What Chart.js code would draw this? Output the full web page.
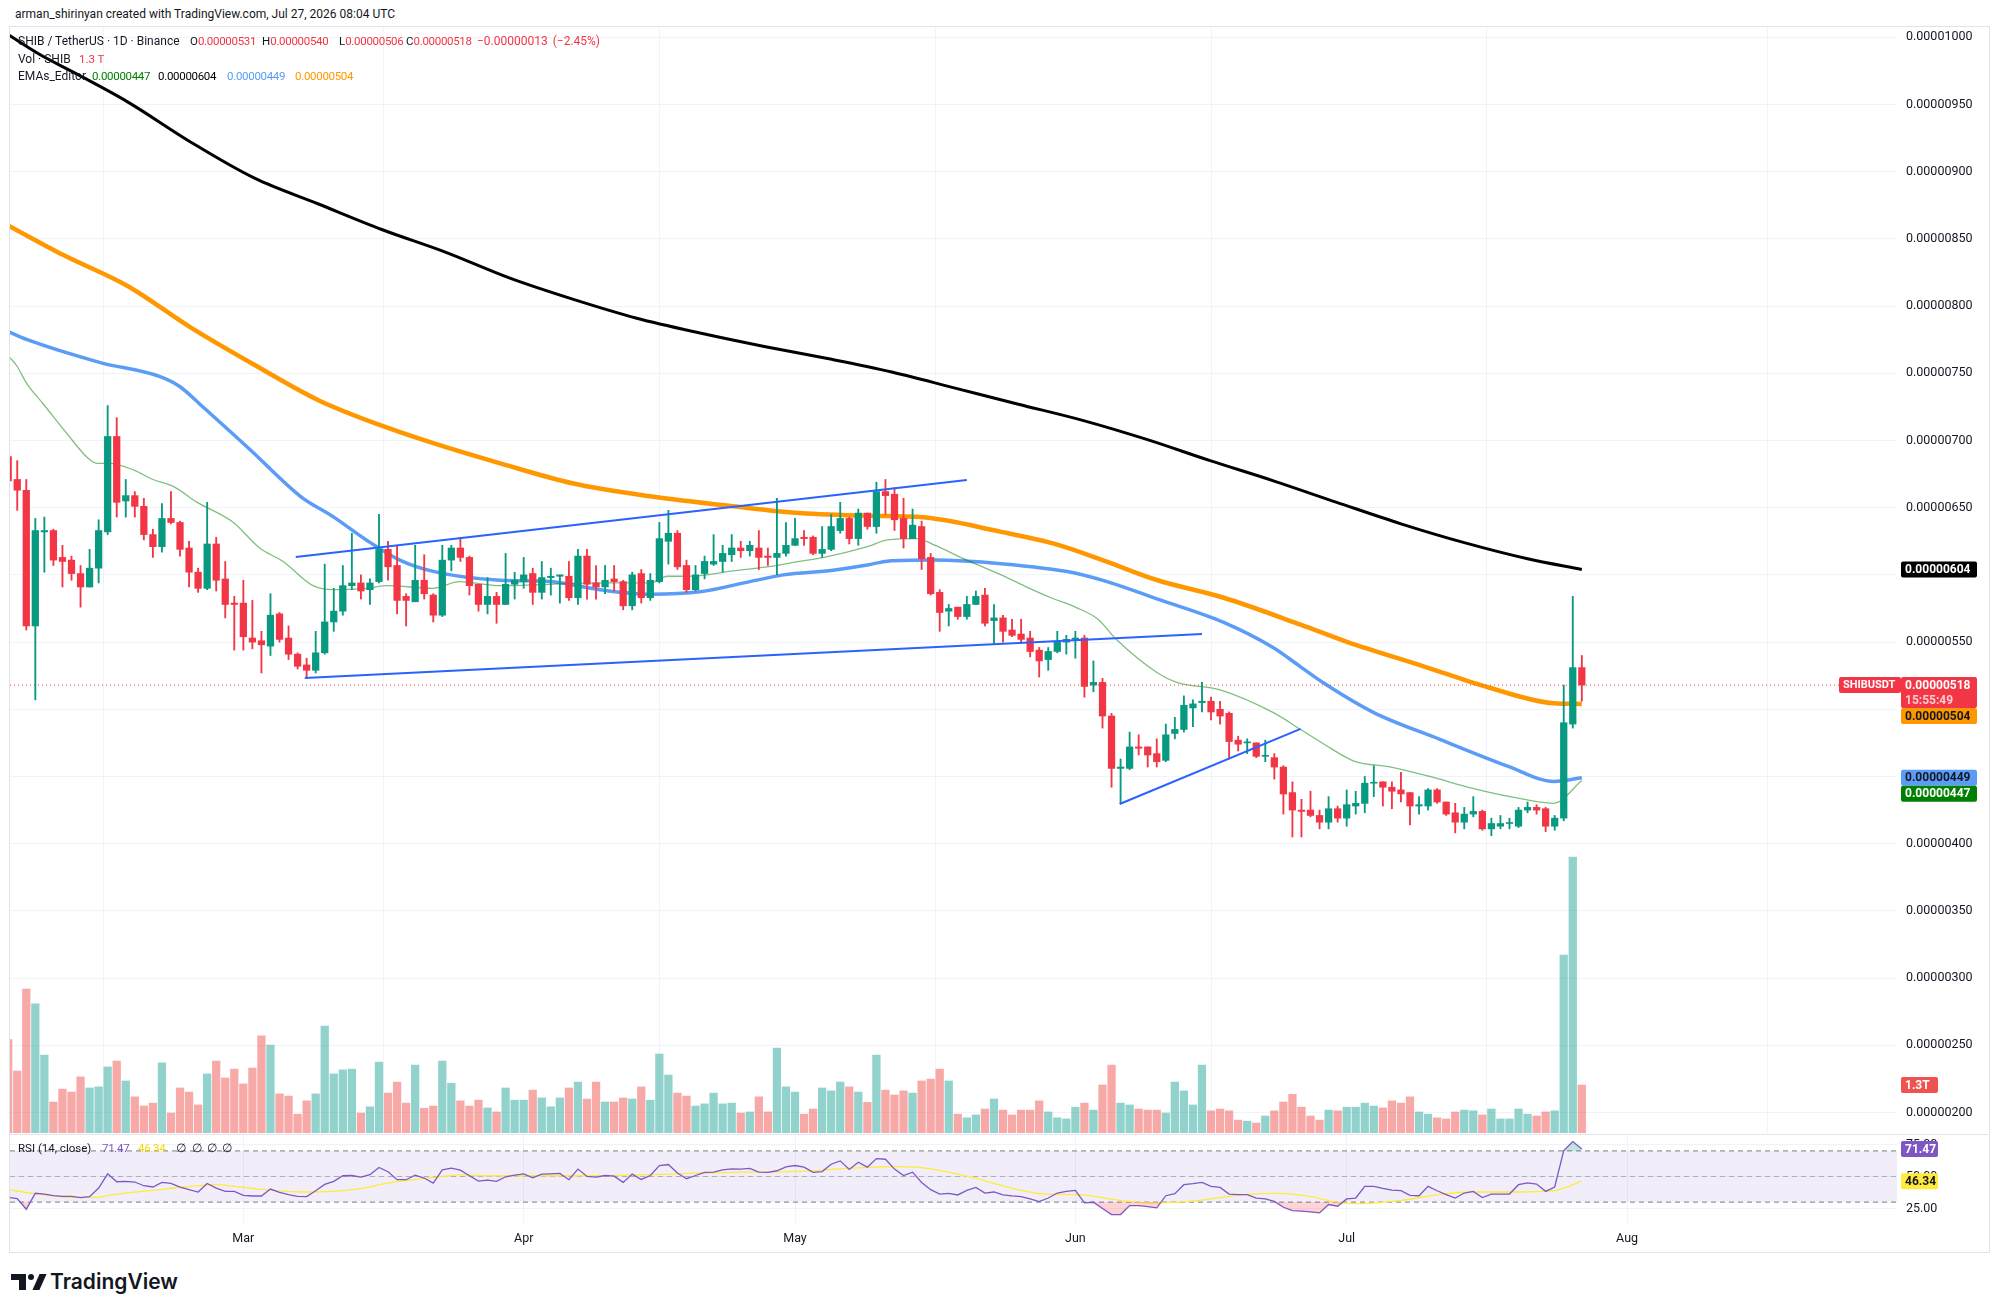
<!DOCTYPE html>
<html>
<head>
<meta charset="utf-8">
<script src="https://cdn.jsdelivr.net/npm/chart.js@4.4.1/dist/chart.umd.min.js"></script>
<style>
  html, body { margin: 0; padding: 0; background: #fff; }
  body { width: 1996px; height: 1312px; position: relative; overflow: hidden; font-family: Roboto, "Noto Sans", sans-serif; color: #131722; }
  .t { position: absolute; white-space: nowrap; font-size: 11.5px; line-height: 12px; }
  .v { letter-spacing: -0.3px; }
  .red { color: #f23645; }
  #frame { position: absolute; left: 9px; top: 26px; width: 1981px; height: 1227px; border: 1px solid #e0e3eb; box-sizing: border-box; }
  #mainChart { position: absolute; left: 10px; top: 27px; }
  #rsiChart { position: absolute; left: 10px; top: 1134px; }
  .lg { position: absolute; background: #131722; }
</style>
</head>
<body>
<div class="t" style="left:15px; top:8px; font-size:12px;">arman_shirinyan created with TradingView.com, Jul 27, 2026 08:04 UTC</div>
<div id="frame"></div>
<canvas id="mainChart" width="1978" height="1106"></canvas>
<canvas id="rsiChart" width="1978" height="118"></canvas>

<div class="t" style="left:18px; top:35px; font-size:12px;">SHIB / TetherUS · 1D · Binance</div>
<div class="t" style="left:190px; top:35px;">O<span class="red v">0.00000531</span></div>
<div class="t" style="left:262px; top:35px;">H<span class="red v">0.00000540</span></div>
<div class="t" style="left:339px; top:35px;">L<span class="red v">0.00000506</span></div>
<div class="t" style="left:406px; top:35px;">C<span class="red v">0.00000518</span></div>
<div class="t red" style="left:477px; top:35px; font-size:12px; word-spacing:2px;">−0.00000013 (−2.45%)</div>
<div class="t" style="left:18px; top:53px; font-size:12px;">Vol · SHIB</div>
<div class="t red" style="left:79px; top:53px;">1.3 T</div>
<div class="t" style="left:18px; top:70px; font-size:12px;">EMAs_Editor</div>
<div class="t v" style="left:92px; top:70px; color:#008000;">0.00000447</div>
<div class="t v" style="left:158px; top:70px; color:#000;">0.00000604</div>
<div class="t v" style="left:227px; top:70px; color:#5b9cf6;">0.00000449</div>
<div class="t v" style="left:295px; top:70px; color:#ff9800;">0.00000504</div>

<div class="t" style="left:18px; top:1142px;">RSI (14, close)</div>
<div class="t v" style="left:102px; top:1142px; color:#7e57c2;">71.47</div>
<div class="t v" style="left:138px; top:1142px; color:#f5d90a;">46.34</div>
<div class="t" style="left:176px; top:1142px;">∅</div>
<div class="t" style="left:192px; top:1142px;">∅</div>
<div class="t" style="left:207px; top:1142px;">∅</div>
<div class="t" style="left:222px; top:1142px;">∅</div>

<div style="position:absolute; left:11px; top:1274px; width:34px; height:16px;">
  <div class="lg" style="left:0; top:0; width:15px; height:6px;"></div>
  <div class="lg" style="left:8px; top:0; width:7px; height:16px;"></div>
  <div class="lg" style="left:17px; top:0; width:6px; height:6px; border-radius:50%;"></div>
  <div class="lg" style="left:25px; top:0; width:7px; height:16px; transform:skewX(-24deg);"></div>
</div>
<div class="t" style="left:50px; top:1270px; font:600 21px Inter, Roboto, sans-serif; line-height:24px;">TradingView</div>

<script>
// day index: 0 = Mar 1, 2026; first candle = Feb 3
const firstDay = -26;
const monthStarts = [0, 31, 61, 92, 122, 153];
const monthNames = ['Mar', 'Apr', 'May', 'Jun', 'Jul', 'Aug'];
const priceTicks = [200, 250, 300, 350, 400, 450, 500, 550, 600, 650, 700, 750, 800, 850, 900, 950, 1000];
const hiddenPriceLabels = [450, 500, 600];
const rsiTicks = [25, 50, 75];

// prices in units of 0.00000001 USDT
const open = [
  688,671,663,562,632,633,613,611,601,591,605,632,703,655,659,651,630,621,642,639,620,602,590,623,597,579,
  579,553,551,547,571,553,541,533,529,542,565,573,592,594,589,595,619,607,584,580,596,585,570,611,620,613,593,578,584,578,593,
  595,601,587,598,599,599,583,614,594,591,597,595,577,601,583,595,625,631,607,589,601,608,610,615,620,618,620,614,613,616,
  622,628,628,616,619,633,642,627,646,636,662,660,642,627,636,613,587,573,576,569,578,585,566,568,559,556,553,544,537,543,550,
  552,553,518,520,495,456,456,472,472,467,462,482,485,501,505,506,500,497,477,475,475,465,464,457,438,425,425,421,416,426,
  419,428,430,445,446,442,440,438,428,428,440,431,423,416,422,424,411,413,415,413,425,427,426,413,419,489,531
];
const high = [
  690,685,671,642,643,634,622,614,607,619,641,726,717,671,662,657,634,653,662,640,625,605,654,628,610,584,
  596,581,558,586,572,562,542,538,558,608,590,607,631,600,597,645,625,622,586,622,615,586,622,622,628,614,593,598,587,616,602,
  613,605,610,605,600,610,619,619,607,607,607,596,602,604,601,639,648,633,611,607,614,630,622,630,625,625,633,620,657,639,
  642,633,629,636,645,654,643,649,646,669,671,665,657,649,640,616,589,578,576,584,588,590,578,570,567,567,558,546,546,558,555,
  558,555,536,523,497,463,483,481,472,478,489,494,510,507,520,509,506,498,480,478,475,477,467,458,446,433,439,425,435,428,
  440,439,450,458,446,446,453,438,435,441,441,431,430,427,435,425,419,421,419,427,431,429,427,421,518,584,540
];
const low = [
  668,648,559,507,602,607,591,596,576,591,594,630,643,643,643,626,613,617,638,614,591,587,589,588,568,544,
  544,545,527,540,550,537,530,524,527,541,558,570,589,582,578,594,596,571,562,580,582,565,569,603,610,585,573,571,564,578,582,
  590,578,582,585,579,581,578,582,582,586,588,574,574,579,581,594,608,604,587,588,597,607,602,610,613,614,604,607,600,614,
  622,622,615,613,618,631,623,622,634,631,645,633,620,627,604,585,558,562,567,567,578,562,549,550,554,549,539,524,529,542,541,
  538,509,513,486,442,430,455,466,457,457,461,478,483,487,498,492,489,463,469,467,464,461,448,422,405,405,420,411,411,416,
  413,422,423,435,428,426,431,414,422,425,430,421,408,411,420,410,406,411,411,412,423,422,409,410,417,486,506
];
const close = [
  670,663,562,633,633,611,610,601,591,605,633,703,654,659,651,630,621,642,639,619,602,590,623,596,578,578,
  554,550,548,570,552,541,532,529,542,565,573,592,594,588,594,619,606,581,581,596,586,570,611,620,613,592,578,584,578,593,596,
  600,587,598,599,600,583,614,593,591,596,595,577,600,583,596,627,631,606,589,600,610,610,616,620,618,622,613,613,616,622,
  627,627,616,619,636,642,627,646,636,662,659,641,627,637,612,586,572,575,569,578,584,564,568,558,555,552,543,536,543,550,552,
  553,517,520,495,456,457,472,471,466,461,481,485,503,504,506,498,495,476,474,475,465,465,457,437,425,424,421,416,426,419,
  429,430,445,445.5,442,439,437,428,429,440,431,422,416,422,424,411,415,415,415.5,425,427,425,413,419,490,531,518
];
// volume in trillions SHIB
const volume = [
  2.53,1.68,3.90,3.50,2.11,0.84,1.19,1.11,1.52,1.22,1.25,1.79,1.95,1.41,0.98,0.73,0.81,1.90,0.54,1.22,1.11,0.76,1.60,1.95,1.49,1.73,
  1.33,1.76,2.63,2.38,1.06,1.00,0.51,0.87,1.06,2.90,1.60,1.71,1.73,0.54,0.71,1.92,1.08,1.38,0.81,1.84,0.67,0.73,1.95,1.35,0.87,0.73,0.89,0.68,0.57,1.22,0.89,
  0.89,1.16,0.95,0.71,0.95,1.22,1.38,0.92,1.38,0.84,0.84,0.95,0.92,1.25,0.89,2.14,1.57,1.08,1.00,0.73,0.79,1.08,0.79,0.81,0.54,0.57,0.98,0.57,2.30,1.25,
  1.11,0.51,0.65,1.22,1.14,1.38,1.25,1.11,0.83,2.11,1.16,1.03,1.14,1.08,1.41,1.46,1.73,1.41,0.51,0.41,0.49,0.65,0.92,0.62,0.49,0.62,0.62,0.87,0.57,0.41,0.38,
  0.70,0.81,0.62,1.30,1.84,0.81,0.76,0.65,0.62,0.62,0.54,1.38,1.14,0.76,1.84,0.60,0.65,0.60,0.35,0.32,0.27,0.46,0.60,0.84,1.05,0.70,0.46,0.35,0.62,0.60,
  0.70,0.70,0.81,0.73,0.68,0.87,0.81,0.98,0.57,0.51,0.41,0.38,0.57,0.62,0.60,0.49,0.65,0.38,0.38,0.65,0.51,0.46,0.57,0.60,4.82,7.48,1.30
];
const rsi = [
  33.8,32.7,24.4,36.9,36.3,35.0,34.5,34.5,33.5,34.3,41.0,52.1,45.9,46.2,45.7,42.8,41.8,45.4,44.6,41.8,39.7,37.9,44.6,41.0,38.4,38.4,
  35.3,34.8,34.8,40.2,37.6,35.8,34.5,34.3,38.9,43.8,46.2,50.6,50.8,49.5,51.4,57.1,53.7,47.5,47.5,51.1,48.8,44.9,55.2,56.5,55.0,50.6,46.4,47.2,46.2,49.8,51.1,
  52.1,49.0,51.9,52.1,52.4,47.5,55.8,50.1,49.5,50.8,50.3,45.4,51.9,47.7,50.8,58.6,59.4,52.7,48.3,50.8,53.2,53.4,55.2,56.0,55.8,56.3,53.4,53.2,54.5,57.6,
  58.6,57.3,53.2,53.9,59.6,62.2,55.5,61.2,57.3,64.0,63.5,55.8,50.8,53.4,45.4,39.7,36.3,36.9,35.6,39.2,41.5,37.1,37.9,35.6,34.8,34.3,32.5,30.4,33.2,37.1,38.4,
  39.2,29.4,29.9,25.0,20.3,20.3,27.3,27.3,26.5,25.5,35.0,36.6,43.6,44.4,45.4,42.3,41.5,36.3,35.8,35.8,33.2,32.5,30.6,26.0,23.4,22.9,22.4,21.6,28.1,26.8,
  32.5,33.2,42.3,42.3,40.7,39.4,38.9,35.3,35.0,42.3,38.9,35.8,33.2,37.1,38.4,33.5,36.3,36.3,36.3,43.6,45.1,44.1,38.4,41.8,70.3,77.3,71.47
];
const rsiMaDays = [-26,-23,-18.5,-16.5,-14,-10,-6.6,-3.2,-1,2.4,7,12.6,16,20.5,24,27.4,37.2,47.2,55,61.5,67.2,72.3,74.5,80.1,85.2,88.6,92.5,97.1,101,105.5,110.6,114.5,117.9,121.3,123.6,128.1,132.6,136,140.5,144.9,148];
const rsiMaVals = [39.8,36.6,33.7,33.7,36.3,39.2,41.8,43.6,42.3,39.7,37.9,40.2,44.9,48.8,51.3,50.6,50.6,51.9,53.5,54.0,56.5,57.8,57.3,50.1,40.5,36.3,35.8,31.2,29.4,31.2,35.8,36.9,34.5,29.4,28.8,31.4,36.3,37.9,37.9,38.9,46.34];

const ema200Days = [-26,-22.7,-18.5,-12.8,-5.8,1.3,8.3,15.3,22.4,29.4,36.5,43.5,50.5,57.6,64.6,71.7,78.7,85.7,92.8,99.8,106.9,113.9,120.9,128,135,142,148];
const ema200Vals = [1002,988,973,952,922,895,876,857,840,821,805,791,780,770,761,751,739,727,715,701,685,670,654,638,624,612,604];
const ema100Days = [-26,-19.9,-12.8,-5.8,1.3,8.3,15.3,21,28.4,36.5,45,54.2,61.5,69,74.9,83.8,90,95,101.1,108.4,116.9,122.1,130.5,137.8,144.9,148];
const ema100Vals = [860,838,815,784,756,730,711,698,683,668,658.5,651,646,644,643,632,622.5,611,596,583,563,550,532,516,504.5,504];
const ema50Days = [-26,-23.9,-15.8,-9.2,-7,-4.8,0.7,6.3,10,13.6,17.3,21,28.4,33.9,39.4,45,50.5,56,59.7,65.2,69,71.2,76.3,83.8,91.8,95.5,101.1,108.4,113.9,116.9,119.5,125,132.3,139.8,144.9,148];
const ema50Vals = [781,775,758,747.5,740,727,693.5,658.5,643,626,611,602.6,596,595,589,585.6,587.4,595,600,603.5,607.3,610.2,611,608.3,601.6,595,582,564.7,545.8,531.6,519.3,497.5,477.6,457.7,446.3,449];
const ema20Days = [-26,-25.1,-23.9,-22.1,-19.6,-17.2,-16.2,-14.8,-12.1,-10,-7.8,-5.1,-1.1,1.8,4.4,7.7,10,13.6,15.9,21,23.9,28.4,39.4,45,46.9,49.1,54.2,57.9,61.5,64.2,69,71.2,74.5,76.3,80,83.8,86.3,89.3,92,94.5,96.6,101.1,103.2,108,113.9,116.9,119.5,122.8,126.9,131.2,135.7,140.1,144.9,148];
const ema20Vals = [763,756,742,727,706,687,683,683,678,671,666,654,639,620,610,592,589,590,592,590,595,592,594,594,599,599,603,606,610,613,621,626,627,622.5,611,600,592,583,576,567,551.5,527,520,514.5,497.5,485,474,461.5,457,450,441.6,435,430,447];

// drawn trend lines: [startDay, startPrice, endDay, endPrice]
const trendUpper = [5.8, 613.3, 80.0, 670.6];
const trendLower = [6.8, 523.3, 106.0, 556.0];
const trendSmall = [96.9, 429.5, 116.9, 485.4];

const xMin = -25.8, xMax = 182.85;
const fmt = v => (v / 1e8).toFixed(8);

const days = open.map((_, i) => firstDay + i);
const isUp = open.map((o, i) => close[i] >= o);
const candleColors = isUp.map(u => u ? '#089981' : '#f23645');
const volColors = isUp.map(u => u ? 'rgba(38,166,154,0.5)' : 'rgba(239,83,80,0.5)');
const pts = (ds, vs) => ds.map((d, i) => ({ x: d, y: vs[i] }));
const seg = s => [{ x: s[0], y: s[1] }, { x: s[2], y: s[3] }];

Chart.defaults.font.family = 'Roboto, "Noto Sans", sans-serif';
Chart.defaults.color = '#131722';
Chart.defaults.animation = false;

// keep the plot area flush with the canvas: no label padding on the value axes
const noPadY = s => { s.width = 91; s.paddingTop = 0; s.paddingBottom = 0; };

function tag(ctx, x, y, w, h, bg, fg, lines, size) {
  ctx.fillStyle = bg;
  ctx.beginPath();
  ctx.roundRect(x, y, w, h, 2);
  ctx.fill();
  ctx.font = 'bold ' + (size || 12) + 'px Roboto, sans-serif';
  ctx.textBaseline = 'middle';
  ctx.textAlign = 'left';
  lines.forEach((ln, k) => {
    ctx.fillStyle = ln.c || fg;
    ctx.fillText(ln.t, x + 4, y + 8.5 + k * 15);
  });
}

const priceTags = {
  id: 'priceTags',
  afterDraw(chart) {
    const { ctx, chartArea: a, scales } = chart;
    const y = scales.y, yv = scales.yv;
    const x0 = a.right + 4, w = 76;
    const last = close.length - 1;
    ctx.save();
    tag(ctx, x0, y.getPixelForValue(ema200Vals.at(-1)) - 8, w, 16, '#000000', '#fff', [{ t: fmt(ema200Vals.at(-1)) }]);
    const redTop = y.getPixelForValue(close[last]) - 8;
    tag(ctx, a.right - 58, redTop, 62, 16, '#f23645', '#fff', [{ t: 'SHIBUSDT' }], 11);
    tag(ctx, x0, redTop, w, 31, '#f23645', '#fff', [{ t: fmt(close[last]) }, { t: '15:55:49', c: 'rgba(255,255,255,0.75)' }]);
    const orTop = Math.max(y.getPixelForValue(ema100Vals.at(-1)) - 8, redTop + 31);
    tag(ctx, x0, orTop, w, 16, '#ff9800', '#131722', [{ t: fmt(ema100Vals.at(-1)) }]);
    const blTop = y.getPixelForValue(ema50Vals.at(-1)) - 8;
    tag(ctx, x0, blTop, w, 16, '#5b9cf6', '#131722', [{ t: fmt(ema50Vals.at(-1)) }]);
    const grTop = Math.max(y.getPixelForValue(ema20Vals.at(-1)) - 8, blTop + 16);
    tag(ctx, x0, grTop, w, 16, '#008000', '#fff', [{ t: fmt(ema20Vals.at(-1)) }]);
    tag(ctx, x0, yv.getPixelForValue(volume[last]) - 8, 37, 16, '#ef5350', '#fff', [{ t: volume[last].toFixed(1) + 'T' }]);
    ctx.restore();
  }
};

const lineDs = (data, color, width, order) => ({
  type: 'line', data, borderColor: color, borderWidth: width, pointRadius: 0,
  cubicInterpolationMode: 'monotone', fill: false, order, yAxisID: 'y'
});

new Chart(document.getElementById('mainChart'), {
  type: 'bar',
  data: {
    datasets: [
      { type: 'bar', data: days.map((d, i) => ({ x: d, y: volume[i] })), yAxisID: 'yv', backgroundColor: volColors, barThickness: 7.6, grouped: false, order: 20 },
      lineDs(pts(ema200Days, ema200Vals), '#000000', 3, 8),
      lineDs(pts(ema100Days, ema100Vals), '#ff9800', 4.5, 7),
      lineDs(pts(ema50Days, ema50Vals), '#5b9cf6', 3.5, 6),
      lineDs(pts(ema20Days, ema20Vals), 'rgba(0,128,0,0.5)', 1.3, 5),
      { type: 'bar', data: days.map((d, i) => ({ x: d, y: [low[i], high[i]] })), yAxisID: 'y', backgroundColor: candleColors, barThickness: 1.2, grouped: false, order: 3 },
      { type: 'bar', data: days.map((d, i) => ({ x: d, y: [open[i], close[i]] })), yAxisID: 'y', backgroundColor: candleColors, barThickness: 6.6, minBarLength: 1, grouped: false, order: 2 },
      { type: 'line', data: [{ x: xMin, y: close.at(-1) }, { x: xMax, y: close.at(-1) }], yAxisID: 'y', borderColor: '#f23645', borderWidth: 1, borderDash: [1, 3], pointRadius: 0, order: 1 },
      { ...lineDs(seg(trendUpper), '#2962ff', 2, 0), cubicInterpolationMode: 'default' },
      { ...lineDs(seg(trendLower), '#2962ff', 2, 0), cubicInterpolationMode: 'default' },
      { ...lineDs(seg(trendSmall), '#2962ff', 2, 0), cubicInterpolationMode: 'default' }
    ]
  },
  options: {
    responsive: false,
    events: [],
    layout: { padding: 0 },
    plugins: { legend: { display: false }, tooltip: { enabled: false } },
    scales: {
      x: {
        type: 'linear', min: xMin, max: xMax, offset: false,
        afterBuildTicks: s => { s.ticks = monthStarts.map(v => ({ value: v })); },
        afterFit: s => { s.height = 0; s.paddingLeft = 0; s.paddingRight = 0; },
        ticks: { display: false },
        grid: { color: '#f0f3fa', drawTicks: false },
        border: { display: false }
      },
      y: {
        position: 'right', min: 184.7, max: 1007.7,
        afterBuildTicks: s => { s.ticks = priceTicks.map(v => ({ value: v })); },
        afterFit: noPadY,
        ticks: { callback: v => hiddenPriceLabels.includes(v) ? '' : fmt(v), font: { size: 12.5 }, color: '#131722', padding: 9 },
        grid: { color: '#f0f3fa', drawTicks: false },
        border: { display: false }
      },
      yv: { display: false, min: 0, max: 29.97 }
    }
  },
  plugins: [priceTags]
});

const rsiTags = {
  id: 'rsiTags',
  afterDraw(chart) {
    const { ctx, chartArea: a, scales } = chart;
    ctx.save();
    ctx.strokeStyle = '#e0e3eb';
    ctx.lineWidth = 1;
    ctx.beginPath();
    ctx.moveTo(0, 0.5);
    ctx.lineTo(chart.width, 0.5);
    ctx.stroke();
    const x0 = a.right + 4;
    tag(ctx, x0, scales.y.getPixelForValue(rsi.at(-1)) - 8, 37, 16, '#7e57c2', '#fff', [{ t: rsi.at(-1).toFixed(2) }]);
    tag(ctx, x0, scales.y.getPixelForValue(rsiMaVals.at(-1)) - 8, 37, 16, '#ffeb3b', '#131722', [{ t: rsiMaVals.at(-1).toFixed(2) }]);
    ctx.restore();
  }
};

const band = (v, color) => ({
  data: [{ x: xMin, y: v }, { x: xMax, y: v }], borderColor: color, borderWidth: 1,
  borderDash: [5, 4], pointRadius: 0, fill: false, order: 10
});

new Chart(document.getElementById('rsiChart'), {
  type: 'line',
  data: {
    datasets: [
      { ...band(70, '#787b86'), fill: '+1', backgroundColor: 'rgba(126,87,194,0.1)' },
      band(30, '#787b86'),
      band(50, 'rgba(120,123,134,0.5)'),
      { data: days.map((d, i) => ({ x: d, y: rsi[i] })), borderWidth: 0, pointRadius: 0, order: 5,
        fill: { target: { value: 70 }, above: 'rgba(8,153,129,0.25)', below: 'transparent' } },
      { data: days.map((d, i) => ({ x: d, y: rsi[i] })), borderColor: '#7e57c2', borderWidth: 1.3, pointRadius: 0, order: 0,
        fill: { target: { value: 30 }, above: 'transparent', below: 'rgba(242,54,69,0.22)' } },
      { data: pts(rsiMaDays, rsiMaVals), borderColor: '#ffeb3b', borderWidth: 1.3, pointRadius: 0, order: 1,
        cubicInterpolationMode: 'monotone', fill: false }
    ]
  },
  options: {
    responsive: false,
    events: [],
    layout: { padding: { top: 1 } },
    plugins: { legend: { display: false }, tooltip: { enabled: false } },
    scales: {
      x: {
        type: 'linear', min: xMin, max: xMax,
        afterBuildTicks: s => { s.ticks = monthStarts.map(v => ({ value: v })); },
        afterFit: s => { s.height = 29; s.paddingLeft = 0; s.paddingRight = 0; },
        ticks: { callback: (v, i) => monthNames[i], font: { size: 12.5 }, color: '#131722', padding: 8, maxRotation: 0 },
        grid: { color: '#f0f3fa', drawTicks: false },
        border: { display: false }
      },
      y: {
        position: 'right', min: 13.69, max: 82.43,
        afterBuildTicks: s => { s.ticks = rsiTicks.map(v => ({ value: v })); },
        afterFit: noPadY,
        ticks: { callback: v => v.toFixed(2), font: { size: 12.5 }, color: '#131722', padding: 9 },
        grid: { color: '#f0f3fa', drawTicks: false },
        border: { display: false }
      }
    }
  },
  plugins: [rsiTags]
});
</script>
</body>
</html>
